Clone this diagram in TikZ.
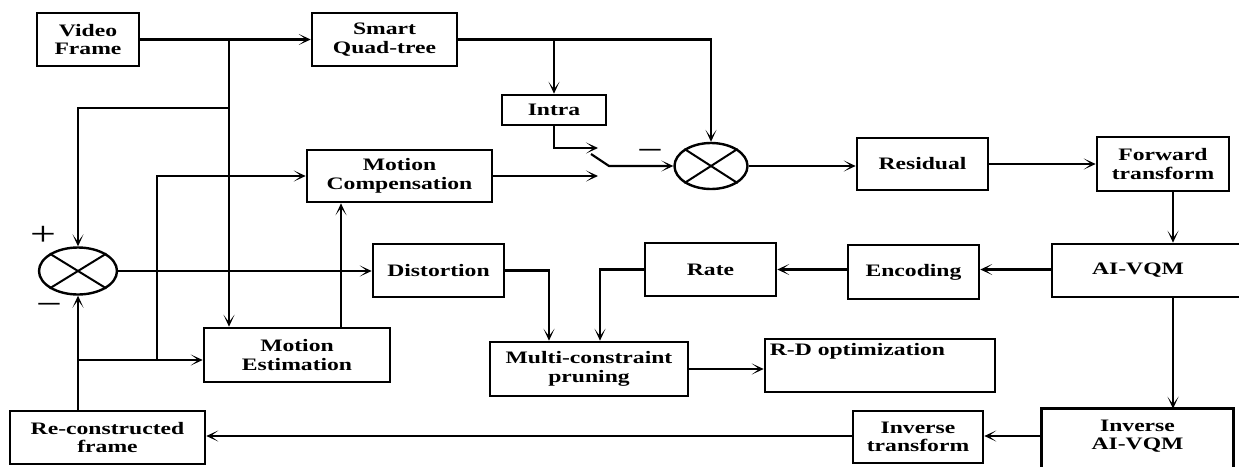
\documentclass[tikz,border=0pt]{standalone}
\usepackage{fontspec}
\setmainfont{Liberation Serif}[FakeStretch=1.35]
\usetikzlibrary{arrows.meta,shapes.geometric,calc}
\begin{document}
\begin{tikzpicture}[x=1pt,y=-1pt,
  lbl/.style={font=\fontsize{17.5}{18.5}\selectfont\bfseries},
  box/.style={draw, line width=2.6pt, inner sep=0pt, align=center, lbl},
  conn/.style={line width=2.2pt},
  arr/.style={conn, -{Stealth[length=12pt,width=11pt,inset=7.5pt]}},
  adder/.style={draw, ellipse, line width=2.4pt, inner sep=0pt},
  sign/.style={font=\fontsize{34}{34}\selectfont, inner sep=0pt}
]
\useasboundingbox (0,0) rectangle (1239,466);
\clip (0,0) rectangle (1239,466);
\fill[white] (0,0) rectangle (1239,466);

% boxes
\node[box, minimum width=102pt, minimum height=53pt] (vf) at (88,39.5) {Video\\Frame};
\node[box, minimum width=145pt, minimum height=53pt] (sq) at (384.5,39.5) {Smart\\Quad-tree};
\node[box, minimum width=104pt, minimum height=30pt] (intra) at (554,110) {Intra};
\node[box, minimum width=185pt, minimum height=52pt] (mc) at (399.5,176) {Motion\\Compensation};
\node[box, minimum width=131pt, minimum height=52pt] (res) at (922.5,164) {Residual};
\node[box, minimum width=132pt, minimum height=54pt] (ft) at (1163,164) {Forward\\transform};
\node[box, minimum width=188pt, minimum height=53pt] (aiv) at (1146,270.5) {AI-VQM\hspace*{16pt}};
\node[box, minimum width=131pt, minimum height=54pt] (enc) at (913.5,272) {Encoding};
\node[box, minimum width=131pt, minimum height=53pt] (rate) at (710.5,269.5) {Rate};
\node[box, minimum width=131pt, minimum height=53pt] (dist) at (438.5,270.5) {Distortion};
\node[box, minimum width=186pt, minimum height=54pt] (me) at (297,355) {Motion\\Estimation};
\node[box, minimum width=198pt, minimum height=54pt] (mcp) at (589,369) {Multi-constraint\\pruning};
\node[box, minimum width=230pt, minimum height=53pt,
  label={[anchor=north west, lbl, inner sep=0pt, xshift=6pt, yshift=-5pt]north west:R-D optimization}] (rd) at (880,365.5) {};
\node[box, minimum width=195pt, minimum height=53pt] (rf) at (107.5,437.5) {Re-constructed\\frame};
\node[box, minimum width=130pt, minimum height=52pt] (it) at (918,437) {Inverse\\transform};
\node[box, draw=none, minimum width=189pt, minimum height=52pt] (iav) at (1137.5,436) {Inverse\\AI-VQM};
\draw[line width=2.6pt] ([yshift=-12pt]iav.south west) -- (iav.north west) -- (iav.north east) -- ([yshift=-12pt]iav.south east);

% adders
\node[adder, minimum width=78pt, minimum height=47pt] (add1) at (78,271) {};
\draw[line width=2pt] (add1.north west) -- (add1.south east) (add1.north east) -- (add1.south west);
\node[adder, minimum width=73pt, minimum height=46pt] (add2) at (711,166) {};
\draw[line width=2pt] (add2.north west) -- (add2.south east) (add2.north east) -- (add2.south west);

% signs
\node[sign] (p1) at (43,236) {+};
\node[sign] (m1) at (49,309) {−};
\node[sign] (m2) at (650,155) {−};

% helper coordinates
\coordinate (j1) at (229,39.5);
\coordinate (j2) at (229,108);
\coordinate (j3) at (78,360);
\coordinate (j4) at (157,360);
\coordinate (sw1) at (598,148);
\coordinate (sa) at (591,154);
\coordinate (sb) at (609,166);
\coordinate (sw2) at (598,178);
\coordinate (mex) at (341,0);
\coordinate (dx) at (549,0);
\coordinate (rx) at (600,0);
\coordinate (vx) at (1173,0);

% connectors
\draw[arr] (vf.east) -- (sq.west);
\draw[arr] (j1) -- (j1 |- me.north);
\draw[arr] (j2) -| (add1.north);
\draw[arr] (sq.east) -| (add2.north);
\draw[arr] (intra.north |- sq.east) -- (intra.north);
\draw[arr] (intra.south) |- (sw1);
\draw[arr] (sa) -- (sb) -- (add2.west);
\draw[arr] (mc.east) -- (mc.east -| sw2);
\draw[arr] (add2.east) -- (add2.east -| res.west);
\draw[arr] (res.east) -- (res.east -| ft.west);
\draw[arr] (ft.south -| vx) -- (aiv.north -| vx);
\draw[arr] (aiv.west |- rate.west) -- (aiv.west |- rate.west -| enc.east);
\draw[arr] (enc.west |- rate.west) -- (rate.east);
\draw[arr] (rate.west) -| (rx |- mcp.north);
\draw[arr] (dist.east) -| (dx |- mcp.north);
\draw[arr] (add1.east) -- (add1.east -| dist.west);
\draw[arr] (add1.south |- rf.north) -- (add1.south);
\draw[arr] (j3) -- (j3 -| me.west);
\draw[arr] (j4) |- (mc.west);
\draw[arr] (me.north -| mex) -- (mc.south -| mex);
\draw[arr] (mcp.east) -- (mcp.east -| rd.west);
\draw[arr] (aiv.south -| vx) -- (iav.north -| vx);
\draw[arr] (iav.west) -- (iav.west -| it.east);
\draw[arr] (it.west |- iav.west) -- (it.west |- iav.west -| rf.east);
\end{tikzpicture}
\end{document}
